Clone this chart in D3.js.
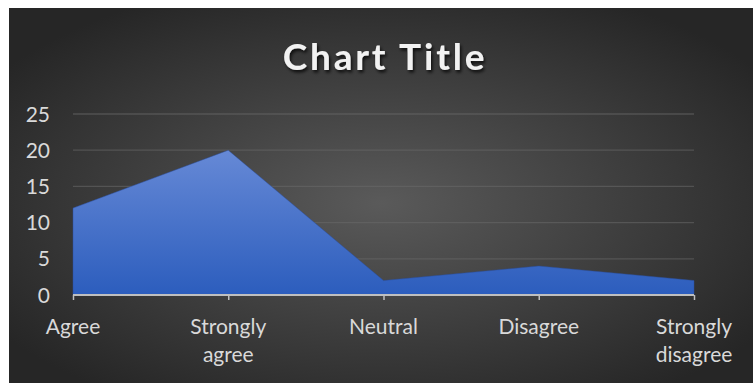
<!DOCTYPE html>
<html>
<head>
<meta charset="utf-8">
<script src="https://cdn.jsdelivr.net/npm/d3@7"></script>
<style>
  html, body { margin: 0; padding: 0; background: #ffffff; }
  svg { display: block; }
</style>
</head>
<body>
<svg id="chart" width="753" height="383"></svg>
<script>
// Survey responses per answer category
const categories = ["Agree", "Strongly agree", "Neutral", "Disagree", "Strongly disagree"];
const responses = [12, 20, 2, 4, 2];
const yTicks = [0, 5, 10, 15, 20, 25];
const chartTitle = "Chart Title";

const W = 753, H = 383;
const svg = d3.select("#chart");
const defs = svg.append("defs");

// Dark radial backdrop
const bg = defs.append("radialGradient").attr("id", "bgGrad")
  .attr("cx", "50%").attr("cy", "52%").attr("r", "62%");
bg.append("stop").attr("offset", "0%").attr("stop-color", "#5a5a5a");
bg.append("stop").attr("offset", "100%").attr("stop-color", "#262626");

// Blue fill for the area, lighter at the top
const areaGrad = defs.append("linearGradient").attr("id", "areaGrad")
  .attr("x1", 0).attr("y1", 0).attr("x2", 0).attr("y2", 1);
areaGrad.append("stop").attr("offset", "0%").attr("stop-color", "#6689d6");
areaGrad.append("stop").attr("offset", "100%").attr("stop-color", "#2c5dbd");

const shadow = defs.append("filter").attr("id", "titleShadow")
  .attr("x", "-10%").attr("y", "-20%").attr("width", "130%").attr("height", "160%");
shadow.append("feDropShadow").attr("dx", 1.5).attr("dy", 2.5).attr("stdDeviation", 1.6)
  .attr("flood-color", "#000").attr("flood-opacity", 0.75);

svg.append("rect").attr("x", 9).attr("y", 8).attr("width", W - 9).attr("height", H - 8)
  .attr("fill", "url(#bgGrad)");

const x = d3.scalePoint().domain(categories).range([73, 694]);
const y = d3.scaleLinear().domain([0, 25]).range([295, 114]);

const font = "Lato, 'Open Sans', sans-serif";

// Horizontal gridlines
svg.append("g").selectAll("line").data(yTicks.filter(t => t > 0)).join("line")
  .attr("x1", x.range()[0]).attr("x2", x.range()[1])
  .attr("y1", d => y(d)).attr("y2", d => y(d))
  .attr("stroke", "#6a6a6a").attr("stroke-opacity", 0.55).attr("stroke-width", 1.3);

// Area series
const area = d3.area()
  .x((d, i) => x(categories[i]))
  .y0(y(0))
  .y1(d => y(d));
svg.append("path").datum(responses)
  .attr("d", area)
  .attr("fill", "url(#areaGrad)")
  .attr("stroke", "#2a4f9e").attr("stroke-width", 0.8).attr("stroke-opacity", 0.6);

// Y axis labels
svg.append("g").selectAll("text").data(yTicks).join("text")
  .attr("x", 50).attr("y", d => y(d) + 7.5)
  .attr("text-anchor", "end")
  .attr("fill", "#d9d9d9")
  .style("font-family", font).style("font-size", "21px")
  .text(d => d);

// X axis line with tick marks
const xAxis = d3.axisBottom(x).tickSize(5).tickFormat("");
const gx = svg.append("g").attr("transform", `translate(0,${y(0)})`).call(xAxis);
gx.select(".domain").attr("stroke", "#bfbfbf").attr("stroke-width", 2)
  .attr("d", `M${x.range()[0]},0H${x.range()[1]}`);
gx.selectAll(".tick line").attr("stroke", "#bfbfbf").attr("stroke-width", 1.5);

// Category labels, wrapped onto two lines where needed
const labels = svg.append("g").selectAll("text").data(categories).join("text")
  .attr("x", d => x(d)).attr("y", 334)
  .attr("text-anchor", "middle")
  .attr("fill", "#d9d9d9")
  .style("font-family", font).style("font-size", "21px");
labels.each(function(d) {
  const words = d.split(" ");
  const t = d3.select(this);
  words.forEach((w, i) => {
    t.append("tspan").attr("x", x(d)).attr("dy", i === 0 ? 0 : 28).text(w);
  });
});

// Title
svg.append("text")
  .attr("x", 385).attr("y", 70)
  .attr("text-anchor", "middle")
  .attr("fill", "#f2f2f2")
  .attr("filter", "url(#titleShadow)")
  .style("font-family", font).style("font-size", "37px").style("font-weight", "bold")
  .style("letter-spacing", "2.8px")
  .text(chartTitle);
</script>
</body>
</html>
